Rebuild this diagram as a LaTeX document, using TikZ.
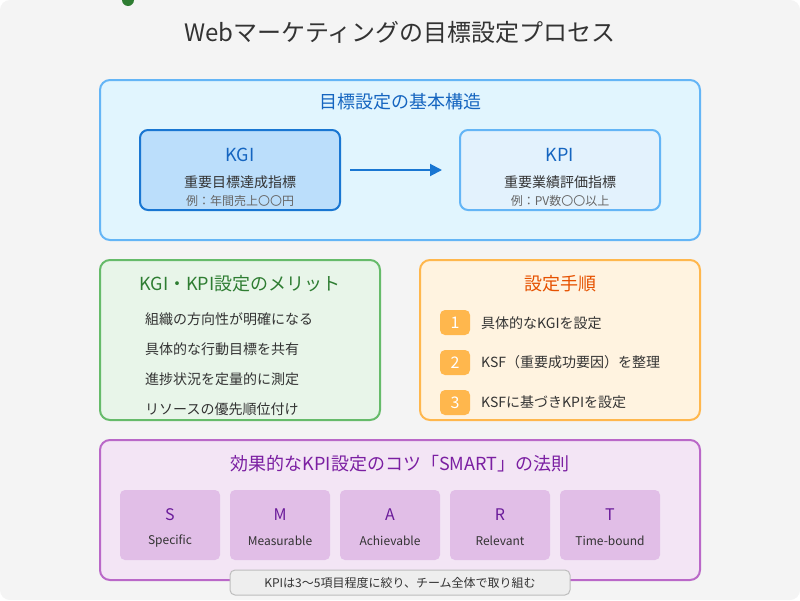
\documentclass[tikz,border=0pt]{standalone}
\usepackage{fontspec}
\setmainfont{Noto Sans CJK JP}
\usetikzlibrary{arrows.meta}
\definecolor{bgc}{HTML}{F4F4F4}
\definecolor{txt}{HTML}{333333}
\definecolor{sub}{HTML}{666666}
\definecolor{blueA}{HTML}{E1F5FE}
\definecolor{blueB}{HTML}{64B5F6}
\definecolor{blueT}{HTML}{1565C0}
\definecolor{kgiF}{HTML}{BBDEFB}
\definecolor{kgiS}{HTML}{1976D2}
\definecolor{kpiF}{HTML}{E3F2FD}
\definecolor{grnF}{HTML}{E8F5E9}
\definecolor{grnS}{HTML}{66BB6A}
\definecolor{grnT}{HTML}{2E7D32}
\definecolor{orF}{HTML}{FFF3E0}
\definecolor{orS}{HTML}{FFB74D}
\definecolor{orT}{HTML}{E65100}
\definecolor{puF}{HTML}{F3E5F5}
\definecolor{puS}{HTML}{BA68C8}
\definecolor{puT}{HTML}{7B1FA2}
\definecolor{puB}{HTML}{E1BEE7}
\definecolor{puL}{HTML}{6A1B9A}
\definecolor{noteF}{HTML}{EEEEEE}
\definecolor{noteS}{HTML}{BDBDBD}
\tikzset{
  panel/.style={rounded corners=10pt, line width=2pt},
  ttl/.style={font=\fontsize{18}{20}\selectfont, inner sep=0pt},
  body/.style={font=\fontsize{14}{16}\selectfont, text=txt, inner sep=0pt},
  small/.style={font=\fontsize{12}{14}\selectfont, inner sep=0pt},
  badge/.style={fill=orS, rounded corners=5pt},
  badgenum/.style={font=\fontsize{16}{18}\selectfont, text=white, inner sep=0pt},
  smartbox/.style={fill=puB, rounded corners=5pt},
}
\begin{document}
\begin{tikzpicture}[x=1pt,y=-1pt]
\useasboundingbox (0,0) rectangle (800,600);
\fill[white] (0,0) rectangle (800,600);
\fill[bgc, rounded corners=10pt] (0,0) rectangle (800,600);
\fill[grnT] (128,0) circle (6);
\node[inner sep=0pt, font=\fontsize{24}{28}\selectfont, text=txt] (title) at (400,32) {Webマーケティングの目標設定プロセス};

% section 1
\draw[panel, fill=blueA, draw=blueB] (100,80) rectangle (700,240);
\node[ttl, text=blueT] (s1t) at (400,102) {目標設定の基本構造};
\draw[fill=kgiF, draw=kgiS, line width=2pt, rounded corners=8pt] (140,130) rectangle (340,210);
\node[ttl, text=blueT] (kgi) at (240,155) {KGI};
\node[body] (kgid) at (240,182) {重要目標達成指標};
\node[small, text=sub] (kgie) at (240,201) {例：年間売上〇〇円};
\draw[fill=kpiF, draw=blueB, line width=2pt, rounded corners=8pt] (460,130) rectangle (660,210);
\node[ttl, text=blueT] (kpi) at (560,155) {KPI};
\node[body] (kpid) at (560,182) {重要業績評価指標};
\node[small, text=sub] (kpie) at (560,201) {例：PV数〇〇以上};
\coordinate (a1) at (350,170);
\coordinate (a2) at (442,170);
\draw[kgiS, line width=2pt, -{Triangle[length=12pt,width=12pt]}] (a1) -- (a2);

% merits
\draw[panel, fill=grnF, draw=grnS] (100,260) rectangle (380,420);
\node[ttl, text=grnT] (mt) at (240,284) {KGI・KPI設定のメリット};
\node[body, anchor=west] (m1) at (145,319) {組織の方向性が明確になる};
\node[body, anchor=west] (m2) at (145,349) {具体的な行動目標を共有};
\node[body, anchor=west] (m3) at (145,379) {進捗状況を定量的に測定};
\node[body, anchor=west] (m4) at (145,409) {リソースの優先順位付け};

% procedure
\draw[panel, fill=orF, draw=orS] (420,260) rectangle (700,420);
\node[ttl, text=orT] (pt) at (560,284) {設定手順};
\fill[badge] (440,310) rectangle (470,335);
\node[badgenum] (b1) at (455,322.5) {1};
\node[body, anchor=west] (p1) at (481,323) {具体的なKGIを設定};
\fill[badge] (440,350) rectangle (470,375);
\node[badgenum] (b2) at (455,362.5) {2};
\node[body, anchor=west] (p2) at (481,362) {KSF（重要成功要因）を整理};
\fill[badge] (440,390) rectangle (470,415);
\node[badgenum] (b3) at (455,402.5) {3};
\node[body, anchor=west] (p3) at (481,402) {KSFに基づきKPIを設定};

% SMART
\draw[panel, fill=puF, draw=puS] (100,440) rectangle (700,580);
\node[ttl, text=puT] (st) at (400,464) {効果的なKPI設定のコツ「SMART」の法則};
\foreach \i/\L/\W in {0/S/Specific,1/M/Measurable,2/A/Achievable,3/R/Relevant,4/T/Time-bound}{
  \fill[smartbox] (120+110*\i,490) rectangle (220+110*\i,560);
  \node[inner sep=0pt, font=\fontsize{16}{18}\selectfont, text=puL] (L\i) at (170+110*\i,515) {\L};
  \node[small, text=txt] (W\i) at (170+110*\i,541) {\W};
}

% note
\draw[fill=noteF, draw=noteS, line width=1pt, rounded corners=5pt] (230,570) rectangle (570,595);
\node[small, text=txt] (note) at (400,582.5) {KPIは3〜5項目程度に絞り、チーム全体で取り組む};
\end{tikzpicture}
\end{document}
